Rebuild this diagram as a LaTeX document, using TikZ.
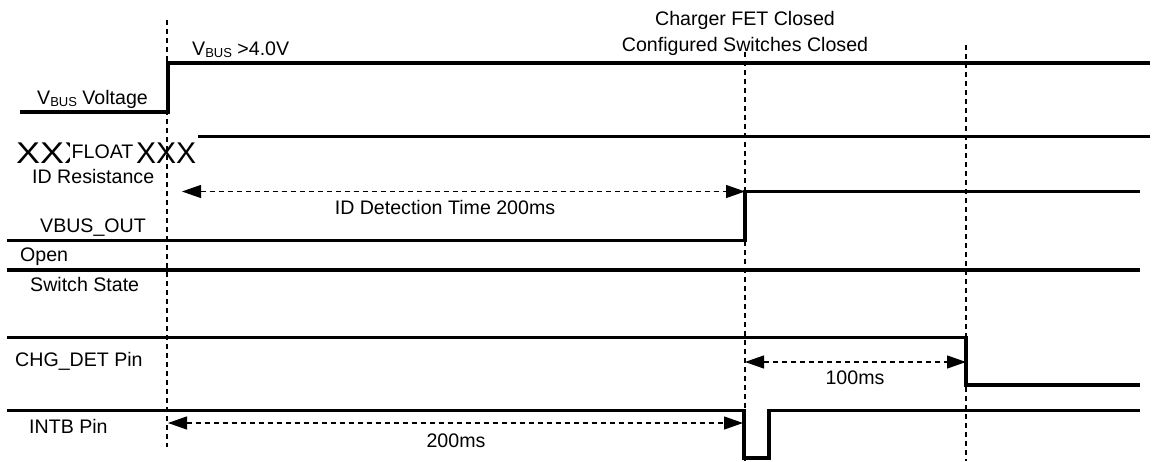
\documentclass[tikz,border=0pt]{standalone}
\usepackage{fontspec}
\setmainfont{Liberation Sans}
\usetikzlibrary{arrows.meta}
\begin{document}
\begin{tikzpicture}[x=1pt,y=-1pt,
  sig/.style={line width=3.8pt,line join=miter},
  guide/.style={line width=1.2pt,dash pattern=on 5pt off 4pt},
  dim/.style={line width=1.2pt,dash pattern=on 5pt off 4pt},
  tipB/.style={{Triangle[length=19pt,width=13pt]}-{Triangle[length=19pt,width=13pt]}},
  lbl/.style={inner sep=0pt,anchor=base west,font=\fontsize{19.6}{23}\selectfont},
  clbl/.style={inner sep=0pt,anchor=base,font=\fontsize{19.6}{23}\selectfont},
  xlbl/.style={inner sep=0pt,anchor=base west,font=\fontsize{30}{32}\selectfont}]
\useasboundingbox (0,0) rectangle (1152,461);
\fill[white] (0,0) rectangle (1152,461);

% guide lines
\coordinate (g1t) at (167,20);  \coordinate (g1b) at (167,447);
\coordinate (g2t) at (745,52);  \coordinate (g2b) at (745,461);
\coordinate (g3t) at (966,45);  \coordinate (g3b) at (966,461);
\draw[guide] (g1t) -- (g1b);
\draw[guide] (g2t) -- (g2b);
\draw[guide] (g3t) -- (g3b);

% VBUS voltage
\draw[sig] (20,112) -- (168,112) -- (168,63) -- (1150,63);
\node[lbl] (vbv) at (37,104) {V\raisebox{-2pt}{\fontsize{13}{14}\selectfont BUS} Voltage};
\node[lbl] (vbth) at (192,55) {V\raisebox{-2pt}{\fontsize{13}{14}\selectfont BUS} >4.0V};
\node[clbl] (cfet) at (745,25) {Charger FET Closed};
\node[clbl] (csw) at (745,51) {Configured Switches Closed};

% ID resistance
\node[xlbl] (xl) at (16,163) {\scalebox{1.2}[1]{XXX}};
\node[xlbl] (xr) at (136,163) {XXX};
\node[inner sep=0pt,anchor=base west,fill=white,text height=21pt,text depth=5pt,inner xsep=1.5pt,font=\fontsize{19.6}{23}\selectfont] (float) at (70,158) {FLOAT};
\draw[sig] (198,136.5) -- (1150,136.5);
\node[lbl] (idr) at (32,183) {ID Resistance};

% ID detection time
\coordinate (ida) at (182,191.5);
\coordinate (idb) at (745,191.5);
\draw[dim,tipB] (ida) -- (idb);
\node[clbl] (idt) at (445,214) {ID Detection Time 200ms};

% VBUS_OUT
\draw[sig] (7,240.5) -- (745,240.5) -- (745,191.5) -- (1140,191.5);
\node[lbl] (vbo) at (40,232) {VBUS\_OUT};
\node[lbl] (open) at (20,261.5) {Open};

% switch state
\draw[sig] (7,270) -- (1140,270);
\node[lbl] (sws) at (30,291) {Switch State};

% CHG_DET
\draw[sig] (7,337.5) -- (966,337.5) -- (966,385) -- (1140,385);
\node[lbl] (chg) at (15,366) {CHG\_DET Pin};
\coordinate (ca) at (745,362);
\coordinate (cb) at (966,362);
\draw[dim,tipB] (ca) -- (cb);
\node[clbl] (t100) at (855,384.5) {100ms};

% INTB
\draw[sig] (7,410.5) -- (744,410.5) -- (744,458) -- (769,458) -- (769,410.5) -- (1140,410.5);
\node[lbl] (intb) at (29,433) {INTB Pin};
\coordinate (ia) at (168,423);
\coordinate (ib) at (743,423);
\draw[dim,tipB] (ia) -- (ib);
\node[clbl] (t200) at (456,447) {200ms};
\end{tikzpicture}
\end{document}
